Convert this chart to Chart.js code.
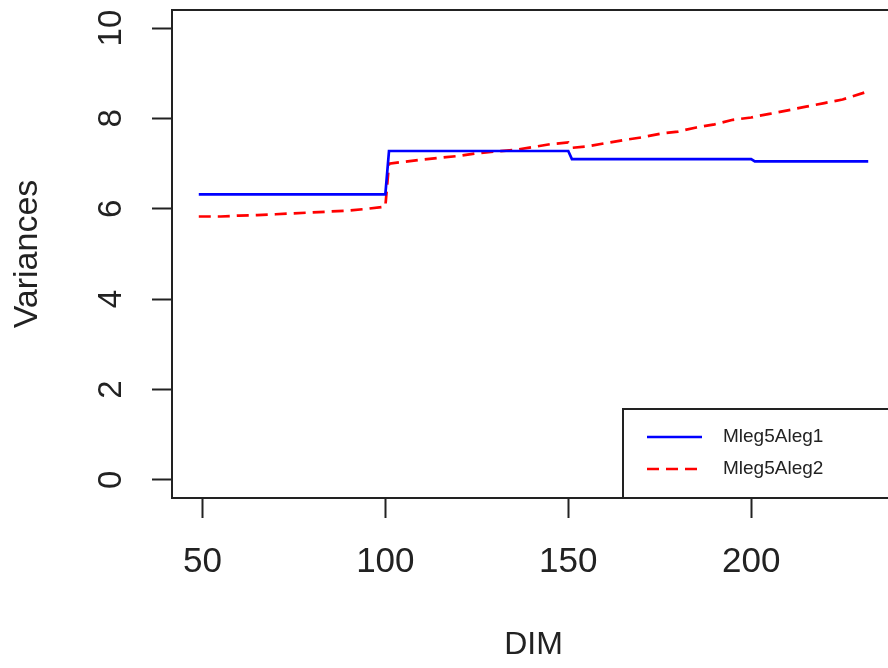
<!DOCTYPE html>
<html>
<head>
<meta charset="utf-8">
<script src="https://cdn.jsdelivr.net/npm/chart.js@4"></script>
<style>
  html, body { margin: 0; padding: 0; background: #fff; overflow: hidden; }
  #wrap { width: 920px; height: 668px; }
</style>
</head>
<body>
<div id="wrap"><canvas id="lineChart" width="920" height="668"></canvas></div>
<script>
const dim = [49, 55, 60, 65, 70, 75, 80, 85, 90, 95, 100,
    101, 105, 110, 115, 120, 125, 130, 135, 140, 145, 150,
    151, 155, 160, 165, 170, 175, 180, 185, 190, 195, 200,
    201, 205, 210, 215, 220, 225, 232]

const aleg1 = [6.32, 6.32, 6.32, 6.32, 6.32, 6.32, 6.32, 6.32, 6.32, 6.32, 6.32,
    7.28, 7.28, 7.28, 7.28, 7.28, 7.28, 7.28, 7.28, 7.28, 7.28, 7.28,
    7.10, 7.10, 7.10, 7.10, 7.10, 7.10, 7.10, 7.10, 7.10, 7.10, 7.10,
    7.05, 7.05, 7.05, 7.05, 7.05, 7.05, 7.05]

const aleg2 = [5.83, 5.83, 5.85, 5.86, 5.88, 5.90, 5.92, 5.94, 5.96, 6.00, 6.05,
    7.00, 7.04, 7.09, 7.13, 7.17, 7.23, 7.27, 7.30, 7.36, 7.43, 7.47,
    7.35, 7.38, 7.45, 7.52, 7.58, 7.66, 7.71, 7.80, 7.87, 7.97, 8.02,
    8.04, 8.10, 8.18, 8.26, 8.34, 8.42, 8.60]

const seriesNames = ['Mleg5Aleg1', 'Mleg5Aleg2']
const yTicks = [0, 2, 4, 6, 8, 10]
const xTicks = [50, 100, 150, 200]

const toPoints = (vals) => dim.map((d, i) => ({ x: d, y: vals[i] }))

// R style box around the plot region
const frameBox = {
    id: 'frameBox',
    beforeDatasetsDraw(chart) {
        const { ctx, chartArea: a } = chart
        ctx.save()
        ctx.strokeStyle = '#222'
        ctx.lineWidth = 2
        ctx.strokeRect(a.left, a.top, a.right - a.left, a.bottom - a.top)
        ctx.restore()
    }
}

// legend box in the bottom right corner, like legend("bottomright")
const boxLegend = {
    id: 'boxLegend',
    afterDraw(chart) {
        const { ctx, chartArea: a } = chart
        const w = 272, h = 89
        const left = a.right - w, top = a.bottom - h
        ctx.save()
        ctx.fillStyle = '#fff'
        ctx.fillRect(left, top, w, h)
        ctx.strokeStyle = '#222'
        ctx.lineWidth = 2
        ctx.strokeRect(left, top, w, h)
        chart.data.datasets.forEach((ds, i) => {
            const y = top + 28 + i * 32
            ctx.beginPath()
            ctx.strokeStyle = ds.borderColor
            ctx.lineWidth = ds.borderWidth
            ctx.setLineDash(ds.borderDash || [])
            ctx.moveTo(left + 24, y)
            ctx.lineTo(left + 79, y)
            ctx.stroke()
            ctx.setLineDash([])
            ctx.fillStyle = '#222'
            ctx.font = '19px "Liberation Sans", Arial, sans-serif'
            ctx.textBaseline = 'middle'
            ctx.fillText(ds.label, left + 100, y)
        })
        ctx.restore()
    }
}

new Chart(document.getElementById('lineChart'), {
    type: 'line',
    data: {
        datasets: [
            {
                label: seriesNames[0],
                data: toPoints(aleg1),
                borderColor: '#0000ff',
                borderWidth: 2.7,
                pointRadius: 0,
                tension: 0
            },
            {
                label: seriesNames[1],
                data: toPoints(aleg2),
                borderColor: '#ff0000',
                borderWidth: 2.7,
                borderDash: [12, 7],
                pointRadius: 0,
                tension: 0
            }
        ]
    },
    options: {
        responsive: false,
        animation: false,
        layout: { padding: { top: 10, right: 25, left: 0, bottom: 0 } },
        plugins: {
            legend: { display: false },
            tooltip: { enabled: false }
        },
        scales: {
            x: {
                type: 'linear',
                min: 41.68,
                max: 239.32,
                afterFit: (s) => { s.height = 170; s.paddingLeft = 0; s.paddingRight = 0 },
                afterBuildTicks: (s) => { s.ticks = xTicks.map(v => ({ value: v })) },
                border: { display: true, color: '#222', width: 2 },
                grid: { display: true, drawOnChartArea: false, drawTicks: true, tickLength: 20, tickWidth: 2, tickColor: '#222' },
                ticks: {
                    color: '#222',
                    padding: 23,
                    maxRotation: 0,
                    font: { family: '"Liberation Sans", Arial, sans-serif', size: 35 }
                },
                title: {
                    display: true,
                    text: 'DIM',
                    color: '#222',
                    padding: { top: 0, bottom: 4 },
                    font: { family: '"Liberation Sans", Arial, sans-serif', size: 32 }
                }
            },
            y: {
                min: -0.4,
                max: 10.4,
                afterFit: (s) => { s.width = 172; s.paddingTop = 0; s.paddingBottom = 0 },
                afterBuildTicks: (s) => { s.ticks = yTicks.map(v => ({ value: v })) },
                border: { display: true, color: '#222', width: 2 },
                grid: { display: true, drawOnChartArea: false, drawTicks: true, tickLength: 20, tickWidth: 2, tickColor: '#222' },
                ticks: {
                    color: '#222',
                    padding: 22,
                    minRotation: 90,
                    maxRotation: 90,
                    crossAlign: 'center',
                    font: { family: '"Liberation Sans", Arial, sans-serif', size: 33 }
                },
                title: {
                    display: true,
                    text: 'Variances',
                    color: '#222',
                    padding: { top: 7, bottom: 0 },
                    font: { family: '"Liberation Sans", Arial, sans-serif', size: 34 }
                }
            }
        }
    },
    plugins: [frameBox, boxLegend]
})
</script>
</body>
</html>
